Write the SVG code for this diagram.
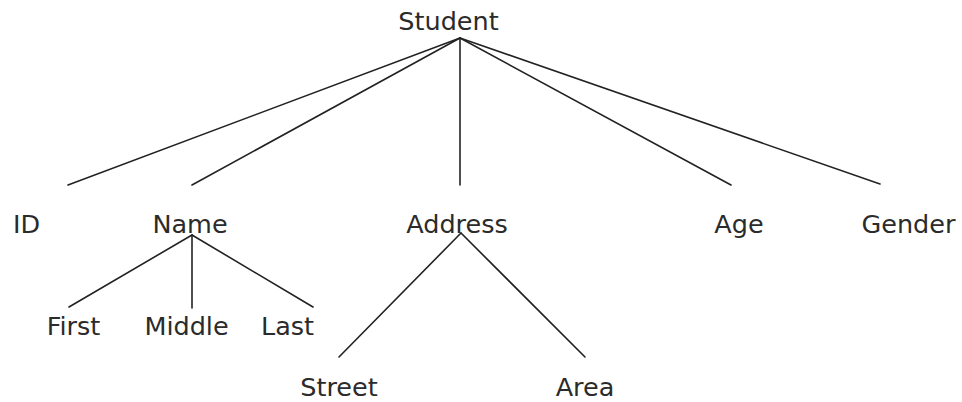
<svg xmlns="http://www.w3.org/2000/svg" width="962" height="402" viewBox="0 0 962 402">
<style>
text{font-family:"DejaVu Sans",Verdana,sans-serif;font-size:25.5px;fill:#2b2b2b;text-anchor:middle}
.c line{stroke:#222;stroke-width:1.6;stroke-linecap:round}
</style>
<rect width="962" height="402" fill="#fff"/>
<g class="c" id="connectors">
<line x1="460" y1="38" x2="68" y2="185"/>
<line x1="460" y1="38" x2="192" y2="185"/>
<line x1="460" y1="38" x2="460" y2="185"/>
<line x1="460" y1="38" x2="731" y2="185"/>
<line x1="460" y1="38" x2="880" y2="184"/>
<line x1="192" y1="235" x2="69" y2="307"/>
<line x1="192" y1="235" x2="192" y2="308"/>
<line x1="192" y1="235" x2="313" y2="307"/>
<line x1="461" y1="233" x2="339" y2="357"/>
<line x1="461" y1="233" x2="585" y2="357"/>
</g>
<g id="student"><text x="448.5" y="30">Student</text></g>
<g id="id"><text x="26.5" y="233">ID</text></g>
<g id="name"><text x="190" y="233">Name</text></g>
<g id="address"><text x="457" y="233">Address</text></g>
<g id="age"><text x="739" y="233">Age</text></g>
<g id="gender"><text x="908.5" y="233">Gender</text></g>
<g id="first"><text x="73.5" y="335">First</text></g>
<g id="middle"><text x="186.5" y="335">Middle</text></g>
<g id="last"><text x="287.5" y="335">Last</text></g>
<g id="street"><text x="339" y="396">Street</text></g>
<g id="area"><text x="585" y="396">Area</text></g>
</svg>
